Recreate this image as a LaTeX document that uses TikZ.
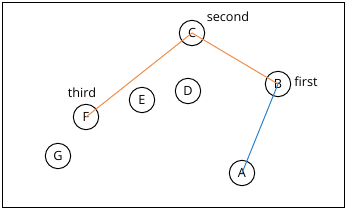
\documentclass[tikz,border=0pt]{standalone}
\usepackage{fontspec}
\setmainfont{Open Sans}
\definecolor{pathorange}{RGB}{240,140,70}
\definecolor{pathblue}{RGB}{40,130,210}
\tikzset{
    vertex/.style={draw, circle, line width=0.75pt, minimum size=19pt, inner sep=0pt, font=\fontsize{9.5}{11}\selectfont},
    tag/.style={font=\fontsize{9.5}{11}\selectfont, inner sep=0pt},
    frame/.style={draw, line width=0.9pt}
}
\begin{document}
\begin{tikzpicture}[x=0.75pt, y=-0.75pt]
    % Canvas and outer border
    \useasboundingbox (0,0) rectangle (347,210);
    \draw[frame] (2.5,2.5) rectangle (344.5,207.5);

    % Vertices
    \node[vertex] (C) at (192,33) {C};
    \node[vertex] (B) at (278,84) {B};
    \node[vertex] (D) at (188,91) {D};
    \node[vertex] (E) at (142,100) {E};
    \node[vertex] (F) at (86,117) {F};
    \node[vertex] (G) at (58,156) {G};
    \node[vertex] (A) at (242,173) {A};

    % Labels next to the visited vertices
    \node[tag] (lblfirst) at (306,82) {first};
    \node[tag] (lblsecond) at (228,17) {second};
    \node[tag] (lblthird) at (82,93) {third};

    % Path: A -> B (blue), then B -> C -> F (orange)
    \draw[pathblue, line width=0.75pt] (A.center) -- (B.center);
    \draw[pathorange, line width=0.75pt] (B.center) -- (C.center) -- (F.center);
\end{tikzpicture}
\end{document}
